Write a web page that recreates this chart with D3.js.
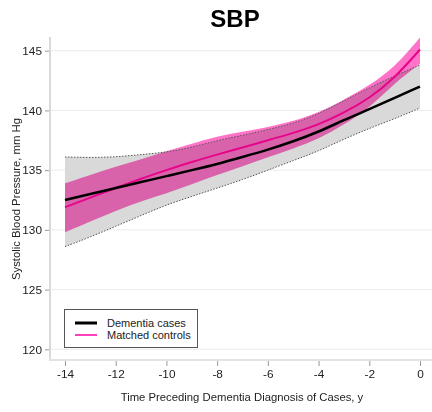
<!DOCTYPE html>
<html><head><meta charset="utf-8">
<script src="https://cdn.jsdelivr.net/npm/d3@7"></script>
<style>body{margin:0;background:#fff}svg{display:block}</style>
</head><body>
<svg id="c" width="432" height="412"></svg>
<script>
const years = [-14,-13,-12,-11,-10,-9,-8,-7,-6,-5,-4,-3,-2,-1,0];
const casesMean = [132.5,133.0,133.5,134.0,134.5,135.0,135.5,136.1,136.7,137.4,138.2,139.2,140.1,141.05,142.0];
const casesLow  = [128.6,129.4,130.3,131.2,132.1,132.8,133.5,134.2,135.0,135.8,136.6,137.6,138.5,139.3,140.2];
const casesHigh = [136.1,136.05,136.1,136.3,136.5,136.9,137.5,137.9,138.4,138.9,139.7,140.8,141.9,142.9,143.8];
const ctrlMean  = [131.9,132.7,133.5,134.3,135.0,135.7,136.3,136.9,137.5,138.1,138.8,139.8,141.0,142.7,145.1];
const ctrlLow   = [129.8,130.7,131.6,132.4,133.05,133.8,134.6,135.3,136.1,136.8,137.6,138.8,140.2,142.3,143.9];
const ctrlHigh  = [133.9,134.6,135.3,135.9,136.6,137.2,137.85,138.2,138.6,139.1,139.8,140.9,142.1,143.6,146.1];
const xTicks = [-14,-12,-10,-8,-6,-4,-2,0];
const yTicks = [120,125,130,135,140,145];
const seriesNames = ["Dementia cases","Matched controls"];

const svg = d3.select("#c");
const x = d3.scaleLinear().domain([-14,0]).range([65,420]);
const y = d3.scaleLinear().domain([120,145]).range([349.3,50.7]);
const font = "'Liberation Sans', Arial, sans-serif";
const fs = "11.3px";

// gridlines
svg.append("g").selectAll("line").data(yTicks).join("line")
  .attr("x1",50).attr("x2",432).attr("y1",d=>y(d)).attr("y2",d=>y(d))
  .attr("stroke","#ebebeb").attr("stroke-width",1);

const curve = d3.curveBasis;
const rows = years.map((t,i)=>({t,cm:casesMean[i],cl:casesLow[i],ch:casesHigh[i],pm:ctrlMean[i],pl:ctrlLow[i],ph:ctrlHigh[i]}));

svg.append("path").datum(rows)
  .attr("d", d3.area().curve(curve).x(d=>x(d.t)).y0(d=>y(d.cl)).y1(d=>y(d.ch)))
  .attr("fill","#d9d9d9");
svg.append("path").datum(rows)
  .attr("d", d3.area().curve(curve).x(d=>x(d.t)).y0(d=>y(d.pl)).y1(d=>y(d.ph)))
  .attr("fill","#ff74c9").style("mix-blend-mode","multiply");
// dashed edges of cases band
["cl","ch"].forEach(k=>{
  svg.append("path").datum(rows)
    .attr("d", d3.line().curve(curve).x(d=>x(d.t)).y(d=>y(d[k])))
    .attr("fill","none").attr("stroke","#555").attr("stroke-width",1).attr("stroke-dasharray","1.5,1.5");
});
svg.append("path").datum(rows)
  .attr("d", d3.line().curve(curve).x(d=>x(d.t)).y(d=>y(d.pm)))
  .attr("fill","none").attr("stroke","#e6058a").attr("stroke-width",2);
svg.append("path").datum(rows)
  .attr("d", d3.line().curve(curve).x(d=>x(d.t)).y(d=>y(d.cm)))
  .attr("fill","none").attr("stroke","#000").attr("stroke-width",2.5);

// axes
const yAxis = d3.axisLeft(y).tickValues(yTicks).tickSize(5).tickPadding(3);
const gy = svg.append("g").attr("transform","translate(50,0)").call(yAxis);
const xAxis = d3.axisBottom(x).tickValues(xTicks).tickSize(6).tickPadding(4).tickFormat(d3.format("d"));
const gx = svg.append("g").attr("transform","translate(0,360)").call(xAxis);
[gx,gy].forEach(g=>{
  g.select(".domain").remove();
  g.selectAll(".tick line").attr("stroke","#999");
  g.selectAll("text").attr("fill","#222").style("font-family",font).style("font-size","11.8px");
});
gx.selectAll("text").text(d=>d<0?"-"+Math.abs(d):d);
svg.append("line").attr("x1",50).attr("x2",50).attr("y1",37).attr("y2",361).attr("stroke","#d9d9d9").attr("stroke-width",2);
svg.append("line").attr("x1",49).attr("x2",432).attr("y1",360).attr("y2",360).attr("stroke","#e3e3e3").attr("stroke-width",2);

// titles
svg.append("text").attr("x",235).attr("y",27).attr("text-anchor","middle")
  .style("font-family",font).style("font-weight","bold").style("font-size","24px").text("SBP");
svg.append("text").attr("x",242).attr("y",401).attr("text-anchor","middle")
  .style("font-family",font).style("font-size",fs).attr("fill","#222").text("Time Preceding Dementia Diagnosis of Cases, y");
svg.append("text").attr("transform","translate(20,199) rotate(-90)").attr("text-anchor","middle")
  .style("font-family",font).style("font-size",fs).attr("fill","#222").text("Systolic Blood Pressure, mm Hg");

// legend
const lg = svg.append("g");
lg.append("rect").attr("x",64.5).attr("y",309.5).attr("width",133).attr("height",38)
  .attr("fill","#fff").attr("stroke","#555").attr("stroke-width",1);
const lcol = ["#000","#ff3fbf"];
seriesNames.forEach((n,i)=>{
  const yy = 323 + i*12;
  lg.append("line").attr("x1",75).attr("x2",97).attr("y1",yy).attr("y2",yy)
    .attr("stroke",lcol[i]).attr("stroke-width",i===0?3:2);
  lg.append("text").attr("x",107).attr("y",yy+4).style("font-family",font).style("font-size","11px")
    .attr("fill","#222").text(n);
});
</script>
</body></html>
